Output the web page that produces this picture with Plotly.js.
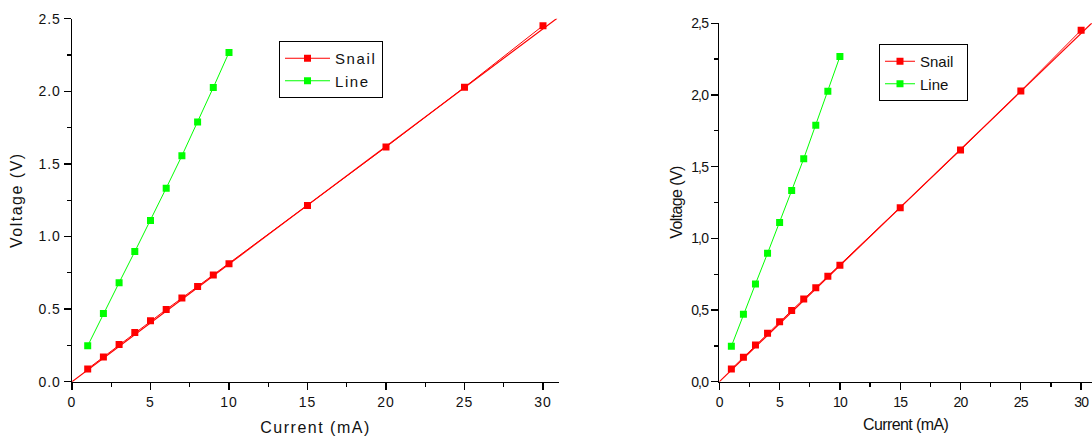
<!DOCTYPE html>
<html><head><meta charset="utf-8">
<script src="https://cdn.plot.ly/plotly-3.0.1.min.js"></script>
<style>
html,body{margin:0;padding:0;overflow:hidden;background:#fff}
#chart{width:1092px;height:439px}
.xtick text,.ytick text{letter-spacing:1px}
.xtitle,.ytitle{letter-spacing:1.5px}
.legendtext{letter-spacing:1.6px}
.legend2 .legendtext{letter-spacing:-0.3px}
.x2tick text,.y2tick text{letter-spacing:-0.8px}
.x2title,.y2title{letter-spacing:-0.6px}
</style>
</head><body><div id="chart"></div>
<script>
const snailCurrent=[1,2,3,4,5,6,7,8,9,10,15,20,25,30];
const snailVoltage=[0.088,0.170,0.256,0.338,0.419,0.497,0.576,0.656,0.735,0.813,1.213,1.616,2.028,2.452];
const lineCurrent=[1,2,3,4,5,6,7,8,9,10];
const lineVoltage=[0.247,0.470,0.682,0.896,1.110,1.333,1.556,1.789,2.026,2.268];
const fitCurrent=[0,30.9];
const fitVoltage=[0,2.503];
const xTickVals=[0,5,10,15,20,25,30];
const yTickVals=[0,0.5,1,1.5,2,2.5];
const yTickTextDot=['0.0','0.5','1.0','1.5','2.0','2.5'];
const yTickTextComma=['0,0','0,5','1,0','1,5','2,0','2,5'];

const RED='#ff0000', GREEN='#00ff00';
function traces(xa,ya,leg){
  return [
    {x:fitCurrent,y:fitVoltage,xaxis:xa,yaxis:ya,mode:'lines',line:{color:RED,width:1.2},showlegend:false,hoverinfo:'skip'},
    {x:snailCurrent,y:snailVoltage,xaxis:xa,yaxis:ya,mode:'lines+markers',name:'Snail',legend:leg,
      line:{color:RED,width:1},marker:{symbol:'square',size:7,color:RED}},
    {x:lineCurrent,y:lineVoltage,xaxis:xa,yaxis:ya,mode:'lines+markers',name:'Line',legend:leg,
      line:{color:GREEN,width:1},marker:{symbol:'square',size:7,color:GREEN}}
  ];
}
const data=[...traces('x','y','legend'),...traces('x2','y2','legend2')];
const F='"Liberation Sans", Arial, sans-serif';
function xaxis(domain,range,anchor,standoff){
  return {domain:domain,range:range,anchor:anchor,automargin:false,showgrid:false,zeroline:false,
    showline:true,linecolor:'#000',linewidth:1.3,ticks:'outside',ticklen:7,tickwidth:1.3,tickcolor:'#000',
    tickvals:xTickVals,tickfont:{family:F,size:14,color:'#111'},
    minor:{ticks:'outside',ticklen:4,tickwidth:1.3,tickcolor:'#000',dtick:2.5,showgrid:false},
    title:{text:'Current (mA)',font:{family:F,size:16,color:'#111'},standoff:standoff}};
}
function yaxis(domain,anchor,txt,standoff){
  return {domain:domain,range:[0,2.5],anchor:anchor,automargin:false,showgrid:false,zeroline:false,
    showline:true,linecolor:'#000',linewidth:1.3,ticks:'outside',ticklen:7,tickwidth:1.3,tickcolor:'#000',
    tickvals:yTickVals,ticktext:txt,tickfont:{family:F,size:14,color:'#111'},
    minor:{ticks:'outside',ticklen:4,tickwidth:1.3,tickcolor:'#000',dtick:0.25,showgrid:false},
    title:{text:'Voltage (V)',font:{family:F,size:16,color:'#111'},standoff:standoff}};
}
const layout={
  width:1092,height:439,margin:{l:0,r:0,t:0,b:0},paper_bgcolor:'#fff',plot_bgcolor:'rgba(0,0,0,0)',
  font:{family:F},
  xaxis:xaxis([72/1092,559/1092],[0,31.02],'y',13),
  yaxis:yaxis([57.3/439,420.3/439],'x',yTickTextDot,11),
  xaxis2:xaxis([719.3/1092,1],[0,30.9],'y2',10),
  yaxis2:yaxis([57.3/439,415.7/439],'x2',yTickTextComma,4),
  legend:{x:279/1092,y:(439-41)/439,xanchor:'left',yanchor:'top',bgcolor:'#fff',bordercolor:'#000',borderwidth:1,
    font:{family:F,size:15,color:'#111'},tracegroupgap:0,itemwidth:45},
  legend2:{x:879/1092,y:(439-44)/439,xanchor:'left',yanchor:'top',bgcolor:'#fff',bordercolor:'#000',borderwidth:1,
    font:{family:F,size:15,color:'#111'},tracegroupgap:0,itemwidth:30},
  showlegend:true
};
Plotly.newPlot('chart',data,layout,{displayModeBar:false,staticPlot:true});
</script></body></html>
